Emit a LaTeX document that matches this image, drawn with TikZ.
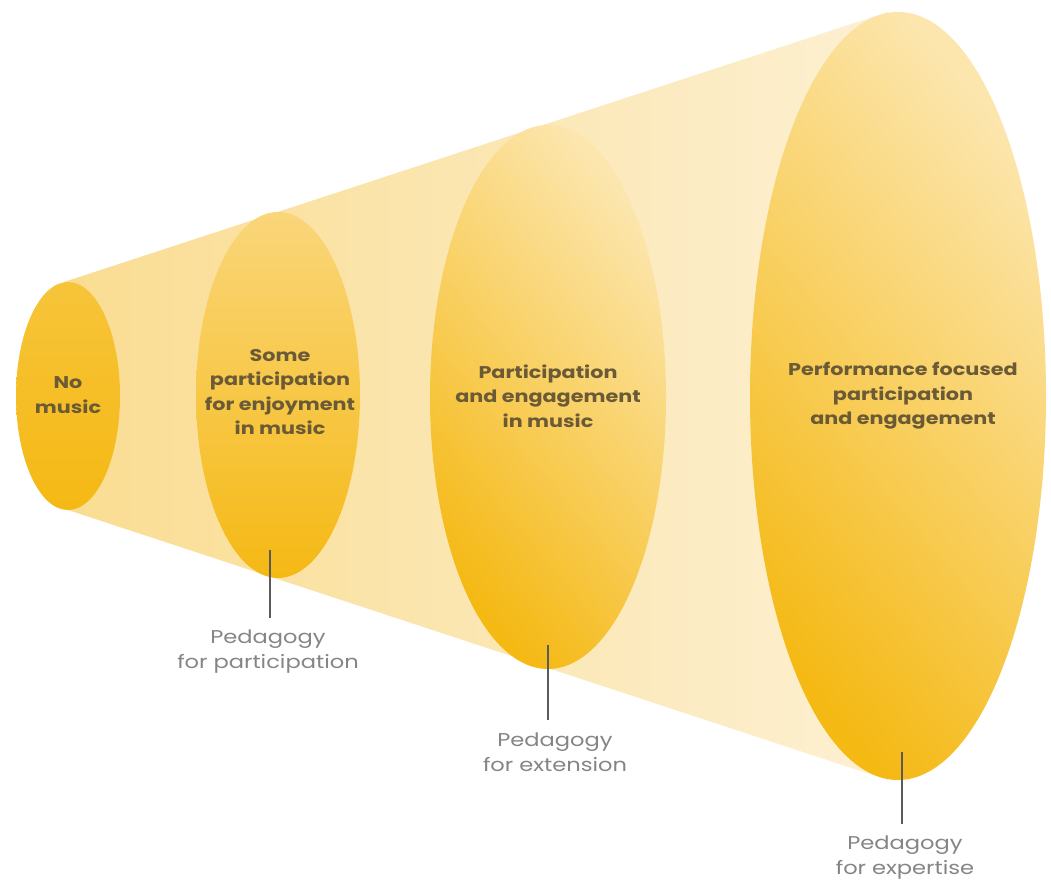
\documentclass[tikz,border=0pt]{standalone}
\usepackage{fontspec}
\setmainfont{Poppins}[FakeStretch=1.22]
\usetikzlibrary{shapes.geometric,calc}
\definecolor{conel}{HTML}{FADD92}
\definecolor{coner}{HTML}{FDF0D2}
\definecolor{ystrong}{HTML}{F5B914}
\definecolor{ylight}{HTML}{FCE6AE}
\definecolor{ylight2}{HTML}{FAD67A}
\definecolor{ymid}{HTML}{F7C43A}
\definecolor{intext}{HTML}{6B5A36}
\definecolor{lbtext}{HTML}{858585}
\definecolor{lncol}{HTML}{5A5A5A}
\begin{document}
\begin{tikzpicture}[x=1pt,y=1pt,
  disc/.style={ellipse, inner sep=0pt, draw=none, shading=axis,
    top color=ylight, bottom color=ystrong, shading angle=-50},
  intxt/.style={font=\bfseries\fontsize{17}{24.5}\selectfont, text=intext, align=center},
  lbl/.style={font=\fontsize{18.5}{25}\selectfont, text=lbtext, align=center, inner sep=0pt},
  tick/.style={draw=lncol, line width=1.1pt}]
\useasboundingbox (0,0) rectangle (1051,883);
\fill[white] (0,0) rectangle (1051,883);
% cone
\shade[left color=conel, right color=coner] (64,601) -- (888,871) -- (888,103) -- (68,373) -- cycle;
% discs
\node[disc, minimum width=104pt, minimum height=228pt, top color=ymid, bottom color=ystrong] (e1) at (68,487) {};
\node[disc, minimum width=164pt, minimum height=366pt, top color=ylight2] (e2) at (278,488) {};
\node[disc, minimum width=236pt, minimum height=544pt] (e3) at (548,486) {};
\node[disc, minimum width=296pt, minimum height=768pt] (e4) at (898,487) {};
% texts
\node[intxt] (t1) at (68,488) {No\\music};
\node[intxt] (t2) at (280,491) {Some\\participation\\for enjoyment\\in music};
\node[intxt] (t3) at (548,487) {Participation\\and engagement\\in music};
\node[intxt] (t4) at (903,487) {Performance focused\\participation\\and engagement};
% labels
\node[lbl] (l2) at (268,231) {Pedagogy\\for participation};
\node[lbl] (l3) at (555,131) {Pedagogy\\for extension};
\node[lbl] (l4) at (905,25) {Pedagogy\\for expertise};
\coordinate (c2) at (270,333);
\coordinate (c3) at (548,238);
\coordinate (c4) at (902,131);
\draw[tick] (c2) -- ($(c2 |- l2.north)+(0,12)$);
\draw[tick] (c3) -- ($(c3 |- l3.north)+(0,12)$);
\draw[tick] (c4) -- ($(c4 |- l4.north)+(0,12)$);
\end{tikzpicture}
\end{document}
